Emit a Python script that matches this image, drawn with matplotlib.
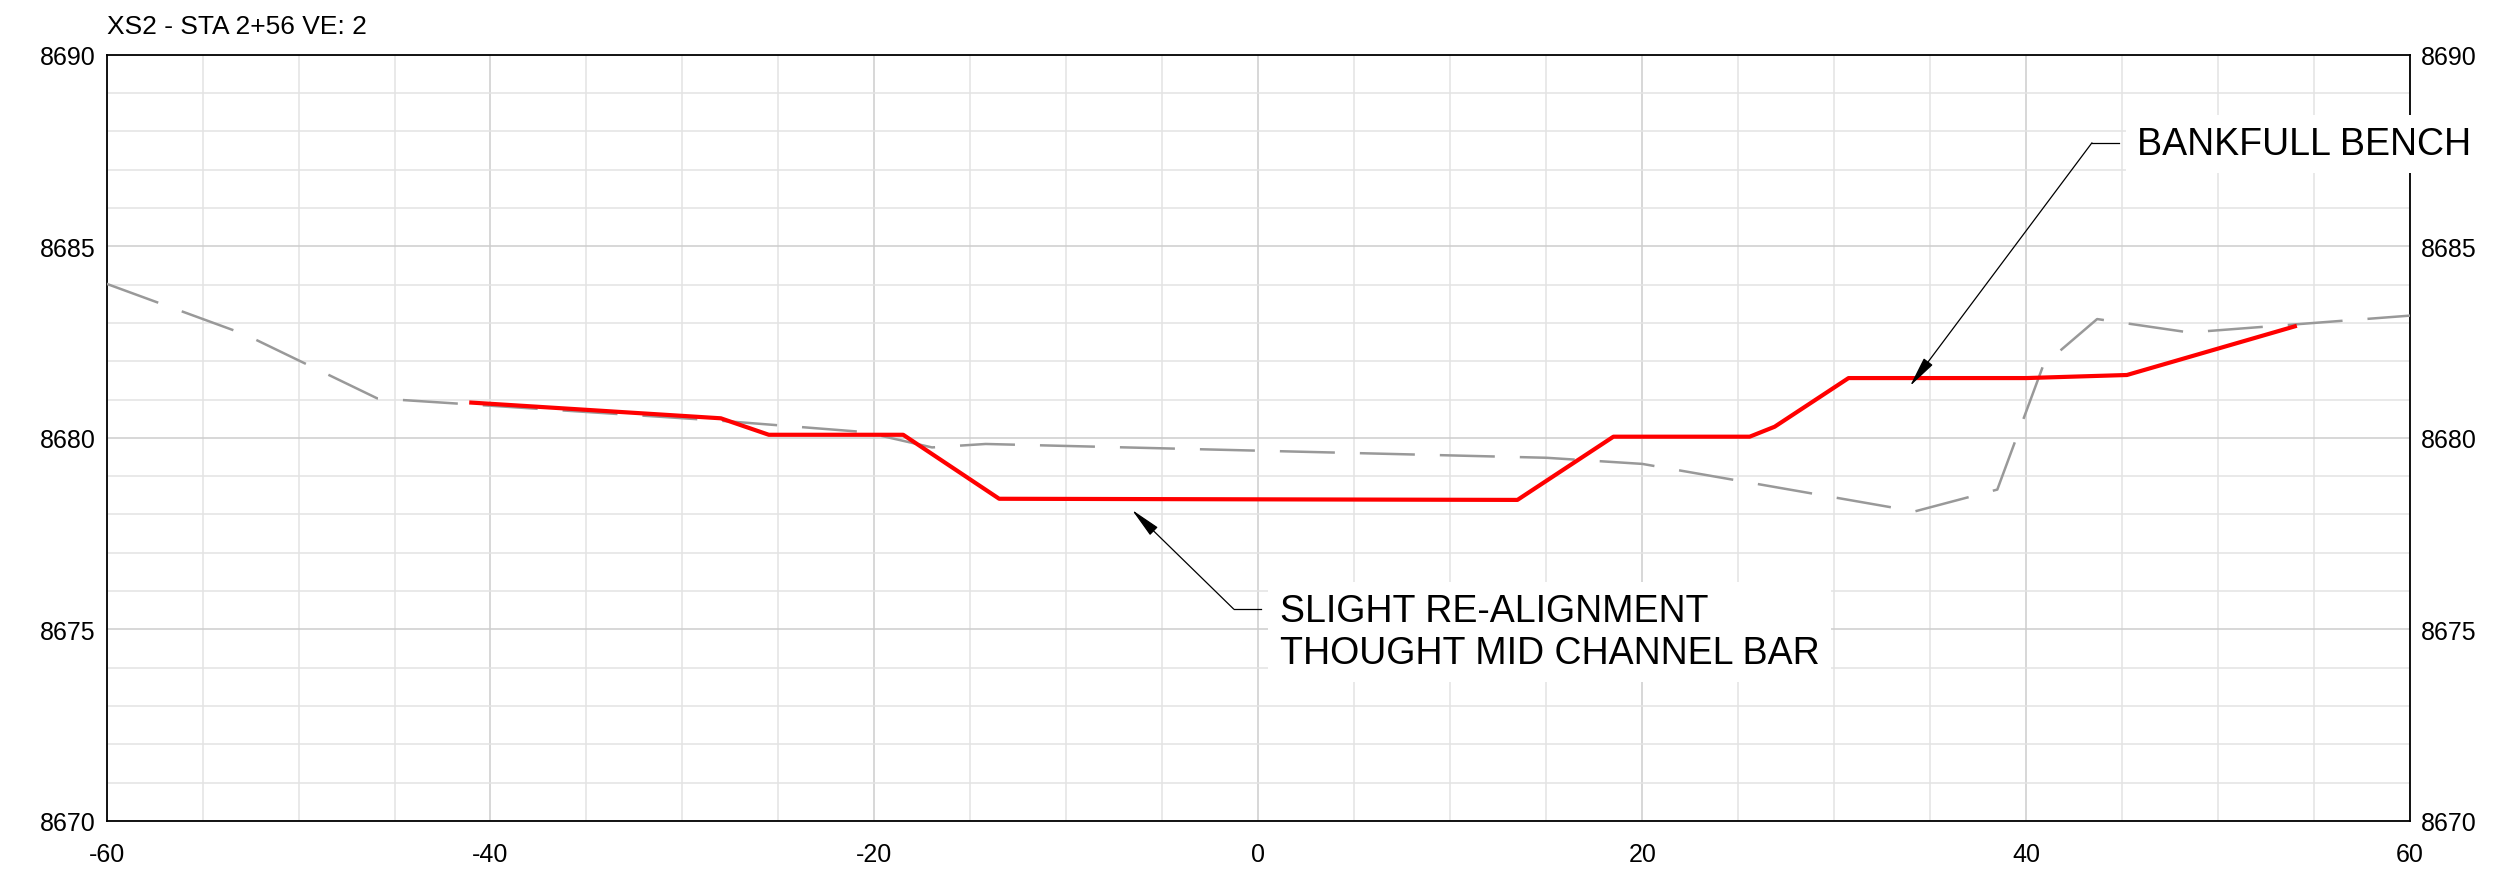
import matplotlib
matplotlib.use('Agg')
import numpy as np
from matplotlib import pyplot as plt

plt.rcParams['font.family'] = ['Liberation Sans', 'DejaVu Sans']
plt.rcParams['axes.unicode_minus'] = False

# existing ground (grey dashed)
exist_x = [-60, -52.8, -45.9, -28.1, -20.5, -17.0, -14.2, 15.0, 20.0, 34.2, 38.5, 40.9, 43.7, 48.5, 60]
exist_y = [8684.02, 8682.7, 8681.03, 8680.45, 8680.15, 8679.75, 8679.84, 8679.48, 8679.32,
           8678.08, 8678.65, 8681.9, 8683.1, 8682.75, 8683.19]

# proposed section (red)
prop_x = [-41.0, -28.0, -25.5, -18.5, -13.5, 13.5, 18.5, 25.6, 26.9, 30.75, 40.0, 45.25, 54.0]
prop_y = [8680.92, 8680.51, 8680.08, 8680.08, 8678.41, 8678.38, 8680.03, 8680.03, 8680.29,
          8681.56, 8681.56, 8681.64, 8682.91]

title = 'XS2 - STA 2+56 VE: 2'
x_ticks = np.arange(-60, 61, 20)
y_ticks = np.arange(8670, 8691, 5)

fig = plt.figure(figsize=(24.94, 8.79), dpi=100)
ax = fig.add_axes([0.04274, 0.06485, 0.92358, 0.8718])

ax.plot(exist_x, exist_y, color='#999999', lw=1.8, linestyle=(0, (22, 10)), zorder=3)
ax.plot(prop_x, prop_y, color='#ff0000', lw=3.0, zorder=4)

ax.set_xlim(-60, 60)
ax.set_ylim(8670, 8690)
ax.set_xticks(x_ticks)
ax.set_yticks(y_ticks)
ax.set_xticks(np.arange(-60, 61, 5), minor=True)
ax.set_yticks(np.arange(8670, 8691, 1), minor=True)
ax.grid(which='minor', color='#e3e3e3', lw=1.1, zorder=0)
ax.grid(which='major', color='#cdcdcd', lw=1.1, zorder=0)
ax.set_axisbelow(True)

ax.tick_params(axis='both', which='both', length=0, labelsize=18)
ax.tick_params(axis='x', pad=15)
ax.tick_params(axis='y', pad=8, labelright=True)
for s in ax.spines.values():
    s.set_linewidth(1.3)
    s.set_color('black')

ax.text(0, 1.0375, title, transform=ax.transAxes, fontsize=19, ha='left', va='center')

box = dict(facecolor='white', edgecolor='none', boxstyle='square,pad=0.3')

# bankfull bench callout
ax.plot([43.43, 44.84], [8687.70, 8687.70], color='black', lw=0.9, zorder=6, clip_on=False)
ax.annotate('', xy=(33.95, 8681.35), xytext=(43.43, 8687.70),
            arrowprops=dict(arrowstyle='-|>,head_length=1.0,head_width=0.18', mutation_scale=19,
                            color='black', lw=0.9, shrinkA=0, shrinkB=0), zorder=6)
ax.text(45.78, 8687.67, 'BANKFULL BENCH', fontsize=27, ha='left', va='center',
        bbox=box, zorder=7, clip_on=False)

# re-alignment callout
ax.plot([-1.28, 0.125], [8675.53, 8675.53], color='black', lw=0.9, zorder=6)
ax.annotate('', xy=(-6.58, 8678.12), xytext=(-1.28, 8675.53),
            arrowprops=dict(arrowstyle='-|>,head_length=1.0,head_width=0.18', mutation_scale=19,
                            color='black', lw=0.9, shrinkA=0, shrinkB=0), zorder=6)
ax.text(1.11, 8674.93, 'SLIGHT RE-ALIGNMENT\nTHOUGHT MID CHANNEL BAR', fontsize=27,
        ha='left', va='center', linespacing=1.2, bbox=box, zorder=7)

fig.savefig('out.png', dpi=100)
